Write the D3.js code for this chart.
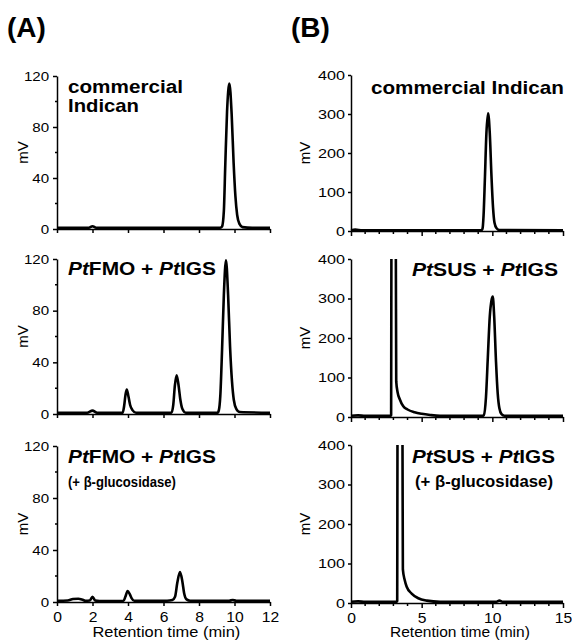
<!DOCTYPE html>
<html><head><meta charset="utf-8">
<script src="https://cdn.jsdelivr.net/npm/d3@7/dist/d3.min.js"></script>
<style>
body{margin:0;background:#fff}
svg{display:block}
text{font-family:"Liberation Sans",Arial,Helvetica,sans-serif;fill:#000}
</style>
</head><body>
<svg id="c" width="572" height="642"></svg>
<script>
// ---------- data (retention time [min], signal [mV]) ----------
const xTicksA = [0, 2, 4, 6, 8, 10, 12];
const yTicksA = [0, 40, 80, 120];
const yMinorA = [20, 60, 100];
const xTicksB = [0, 5, 10, 15];
const xMinorB = [1, 2, 3, 4, 6, 7, 8, 9, 11, 12, 13, 14];
const yTicksB = [0, 100, 200, 300, 400];

// (A) commercial Indican
const traceA1 = [[0,1],[1.8,1],[2.0,2.2],[2.2,1],[9.2,1],[9.3,2],[9.4,14],[9.48,50],[9.58,92],[9.71,114],[9.84,90],[9.95,52],[10.05,26],[10.15,11],[10.28,4],[10.45,1.5],[11,1],[12,1]];
// (A) PtFMO + PtIGS
const traceA2 = [[0,1],[1.7,1],[2.0,2.6],[2.25,1],[3.7,1],[3.78,6],[3.86,15],[3.93,19],[4.02,14],[4.12,7],[4.25,3],[4.45,1],[6.45,1],[6.55,7],[6.64,22],[6.74,30],[6.84,23],[6.95,11],[7.06,4],[7.25,1],[9.05,1],[9.12,3],[9.2,14],[9.3,50],[9.4,92],[9.52,119],[9.64,92],[9.75,52],[9.86,25],[9.96,11],[10.1,4],[10.3,1.5],[12,1]];
// (A) PtFMO + PtIGS (+ beta-glucosidase)
const traceA3 = [[0,1],[0.6,1.2],[0.9,2.3],[1.2,2.5],[1.4,2],[1.6,1],[1.85,1.2],[2.0,4],[2.15,1.2],[2.4,0.8],[3.75,1],[3.85,4],[3.98,8.5],[4.1,6],[4.2,3],[4.35,1],[6.2,1],[6.5,1.5],[6.65,4],[6.78,15],[6.93,23],[7.06,16],[7.16,7],[7.3,2],[7.5,1],[9.7,1],[9.9,1.5],[10.1,1],[12,1]];
// (B) commercial Indican
const traceB1 = [[0,2],[0.3,3.5],[0.8,2],[9.22,2],[9.3,5],[9.38,40],[9.47,130],[9.58,250],[9.7,302],[9.82,250],[9.94,140],[10.05,60],[10.15,22],[10.3,7],[10.5,2.5],[15,2]];
// (B) PtSUS + PtIGS
const traceB2 = [[0,3],[0.5,4],[1,3],[2.8,3],[2.84,5],[2.86,450],[3.0,900],[3.17,450],[3.2,90],[3.3,62],[3.45,45],[3.7,27],[4.0,19],[4.5,12],[5.0,8],[5.6,5],[6.3,3],[9.3,3],[9.4,5],[9.55,50],[9.68,150],[9.82,255],[9.94,295],[10.03,305],[10.13,255],[10.26,140],[10.38,60],[10.5,22],[10.65,7],[10.85,3],[15,3]];
// (B) PtSUS + PtIGS (+ beta-glucosidase)
const traceB3 = [[0,3],[0.5,4],[1,3],[3.24,3],[3.27,5],[3.29,450],[3.47,900],[3.64,450],[3.67,85],[3.8,58],[3.94,41],[4.29,24],[4.76,12],[5.36,6],[6.3,3],[10.3,3],[10.5,6],[10.7,3],[15,3]];

const panelLetters = ["(A)", "(B)"];
const titleA1 = [["commercial"]];
const titleA1b = [["Indican"]];
const titleB1 = [["commercial Indican"]];
const titleFMO = [["Pt", true], ["FMO + "], ["Pt", true], ["IGS"]];
const titleSUS = [["Pt", true], ["SUS + "], ["Pt", true], ["IGS"]];
const titleGlu = [["(+ β-glucosidase)"]];
const yLabel = "mV";
const xLabel = "Retention time (min)";

// ---------- layout ----------
const colA = {x0: 57, x1: 270, dom: [0, 12], ydom: [0, 120]};
const colB = {x0: 351, x1: 563, dom: [0, 15], ydom: [0, 400]};
const rowsA = [[76, 229], [259, 414], [446, 602]];
const rowsB = [[75, 231], [259, 417], [445, 603]];

const svg = d3.select("#c");
const defs = svg.append("defs");

function label(parts, x, y, size, width, weight) {
  const g = svg.append("g").attr("transform", `translate(${x},${y})`);
  const t = g.append("text").attr("font-size", size).attr("font-weight", weight || "bold");
  parts.forEach(p => t.append("tspan").attr("font-style", p[1] ? "italic" : "normal").text(p[0]));
  if (width) {
    const w = t.node().getBBox().width;
    t.attr("transform", `scale(${width / w},1)`);
  }
  return t;
}

let clipId = 0;
function panel(col, row, trace, isA, showX) {
  const x = d3.scaleLinear().domain(col.dom).range([col.x0, col.x1]);
  const y = d3.scaleLinear().domain(col.ydom).range([row[1], row[0]]);
  const g = svg.append("g");
  const id = "clip" + (clipId++);
  defs.append("clipPath").attr("id", id).append("rect")
    .attr("x", col.x0 - 2).attr("y", y(col.ydom[1]))
    .attr("width", col.x1 - col.x0 + 4).attr("height", row[1] - row[0] + 4);

  // y axis
  const yT = isA ? yTicksA : yTicksB;
  const ya = g.append("g").attr("transform", `translate(${col.x0},0)`)
    .call(d3.axisLeft(y).tickValues(yT).tickSize(isA ? 4 : 3).tickPadding(isA ? 3 : 2).tickSizeOuter(0));
  ya.selectAll("text").attr("font-size", 13.5).attr("font-family", null)
    .attr("transform", `scale(${isA ? 1.12 : 1.2},1)`);
  if (isA) {
    ya.selectAll(".minor").data(yMinorA).enter().append("line").attr("class", "minor")
      .attr("x1", -2).attr("x2", 0).attr("y1", d => y(d)).attr("y2", d => y(d)).attr("stroke", "#000");
  }
  // x axis
  const xa = g.append("g").attr("transform", `translate(0,${row[1]})`)
    .call(d3.axisBottom(x).tickValues(isA ? xTicksA : xTicksB).tickSize(isA ? 4 : 5)
      .tickPadding(isA ? 6 : 5).tickSizeOuter(0).tickFormat(showX ? d3.format("d") : () => ""));
  xa.selectAll("text").attr("font-size", 14).attr("font-family", null)
    .attr("transform", "scale(1.12,1)");
  if (!isA) {
    xa.selectAll(".minor").data(xMinorB).enter().append("line").attr("class", "minor")
      .attr("x1", d => x(d)).attr("x2", d => x(d)).attr("y1", 0).attr("y2", 3).attr("stroke", "#000");
  }
  g.selectAll(".domain, .tick line, .minor").attr("stroke", "#000").attr("stroke-width", 1.5);

  // trace
  const line = d3.line().x(d => x(d[0])).y(d => y(d[1])).curve(d3.curveMonotoneX);
  g.append("path").datum(trace).attr("clip-path", `url(#${id})`)
    .attr("d", line).attr("fill", "none").attr("stroke", "#000")
    .attr("stroke-width", 2.6).attr("stroke-linejoin", "round");

  // y label
  const cx = isA ? 23 : 305;
  svg.append("text").attr("transform", `translate(${cx},${(row[0] + row[1]) / 2}) rotate(-90)`)
    .attr("text-anchor", "middle").attr("dy", "0.35em").attr("font-size", 15).text(yLabel);

  if (showX) {
    const xc = (col.x0 + col.x1) / 2;
    const w = isA ? 148 : 140;
    const t = label([[xLabel]], 0, 637, 14, w, "normal");
    t.node().parentNode.setAttribute("transform", `translate(${xc - w / 2 + 3},637)`);
  }
}

panel(colA, rowsA[0], traceA1, true, false);
panel(colA, rowsA[1], traceA2, true, false);
panel(colA, rowsA[2], traceA3, true, true);
panel(colB, rowsB[0], traceB1, false, false);
panel(colB, rowsB[1], traceB2, false, false);
panel(colB, rowsB[2], traceB3, false, true);

// panel letters
label([[panelLetters[0]]], 7, 37, 28, null, "bold");
label([[panelLetters[1]]], 291, 37, 28, null, "bold");

// titles
label(titleA1, 68, 92.7, 18, 115);
label(titleA1b, 68, 112.3, 18, 71);
label(titleB1, 371, 94.3, 18, 193);
label(titleFMO, 68, 275, 18, 148);
label(titleSUS, 412, 275.5, 18, 146);
label(titleFMO, 68, 463.3, 18, 148);
label(titleGlu, 68, 487, 14, 108);
label(titleSUS, 412, 463.3, 18, 143);
label(titleGlu, 415, 487.3, 17, 138);
</script>
</body></html>
